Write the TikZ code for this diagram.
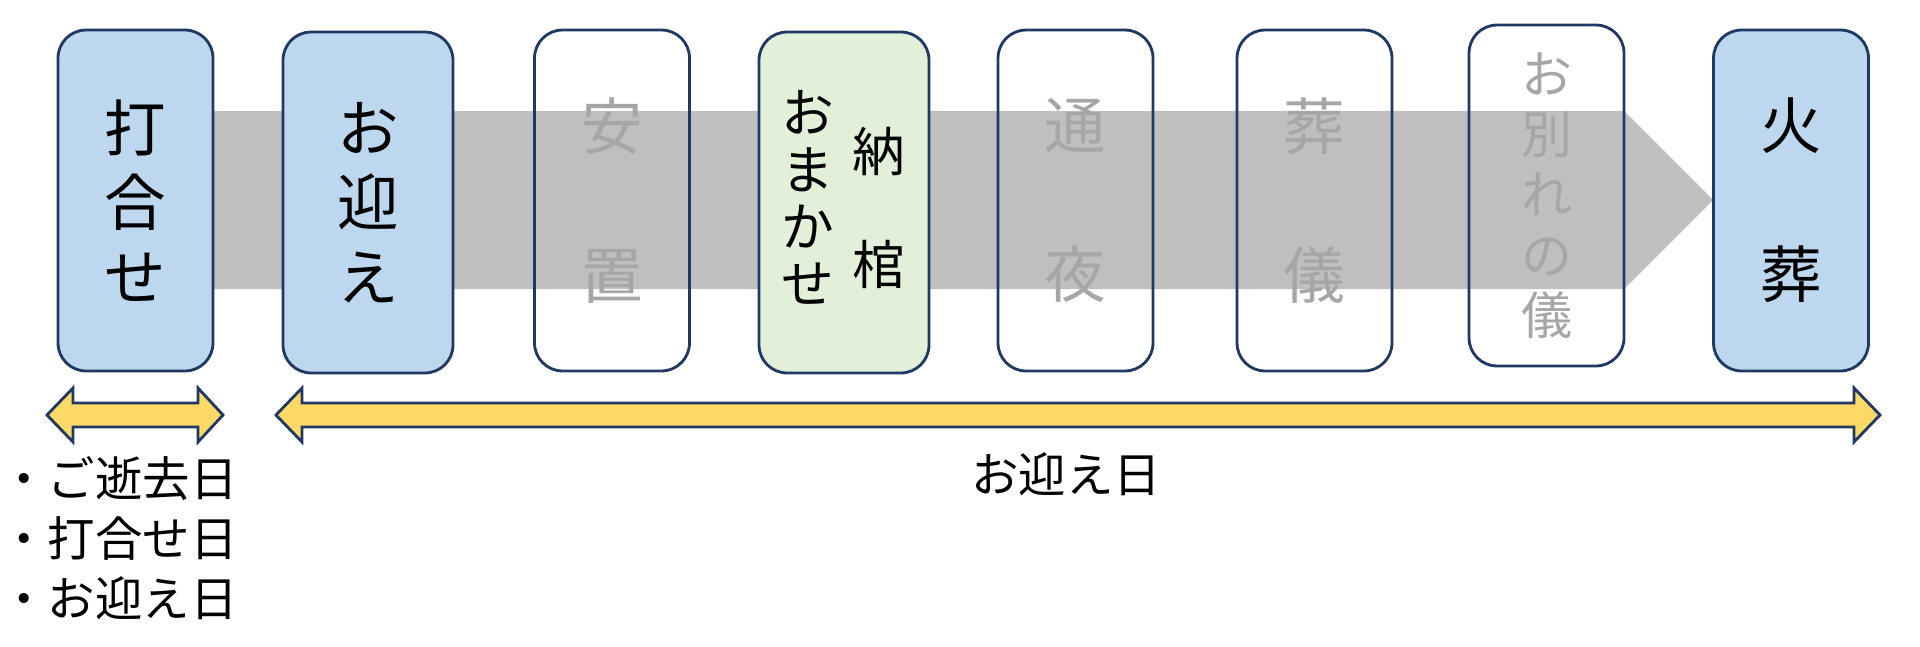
\documentclass[tikz,border=0pt]{standalone}
\usepackage{fontspec}
\setmainfont{Noto Sans CJK JP}
\usepackage{xcolor}
\usepackage{tikz}
\usetikzlibrary{shapes,arrows}

\definecolor{stepblue}{HTML}{BDD7EE}
\definecolor{stepgreen}{HTML}{E2F0D9}
\definecolor{stepline}{HTML}{1F3864}
\definecolor{bandgray}{HTML}{BFBFBF}
\definecolor{textgray}{HTML}{A6A6A6}
\definecolor{dategold}{HTML}{FFD966}

\tikzset{
    stepbox/.style={
        draw=stepline,
        line width=1.6pt,
        rounded corners=0.56cm,
        minimum width=3.1cm,
        minimum height=6.82cm,
        inner sep=0pt,
        align=center,
        font=\fontsize{35}{42.5}\selectfont
    },
    widebox/.style={stepbox, minimum width=3.4cm},
    donebox/.style={fill=stepblue},
    otherbox/.style={text=textgray},
    smalltext/.style={inner sep=0pt, align=center, font=\fontsize{30}{32.3}\selectfont},
    datearrow/.style={
        draw=stepline,
        line width=1.6pt,
        fill=dategold,
        line join=miter
    },
    datetext/.style={inner sep=0pt, align=left, font=\fontsize{27}{34}\selectfont}
}

\begin{document}
\begin{tikzpicture}[x=0.02cm, y=-0.02cm]
                \useasboundingbox (0,0) rectangle (1920,646);

                % grey flow band behind the steps
                \fill[bandgray] (200,111) -- (1624,111) -- (1713,200)
                    -- (1624,289) -- (200,289) -- cycle;

                % steps
                \node[stepbox, donebox] (uchiawase) at (135.5,200.5) {打\\合\\せ};
                \node[widebox, donebox] (omukae) at (368,202.5) {お\\迎\\え};
                \node[stepbox, otherbox] (anchi) at (612,200.5) {安\\[\baselineskip]置};
                \node[widebox, fill=stepgreen] (nokan) at (844,202.5) {};
                \node[smalltext] (nokanL) at (808,197.5) {お\\ま\\か\\せ};
                \node[smalltext] (nokanR) at (878.5,208) {納\\[32.3pt]棺};
                \node[stepbox, otherbox] (tsuya) at (1075.5,200.5) {通\\[\baselineskip]夜};
                \node[stepbox, otherbox] (sogi) at (1314.5,200.5) {葬\\[\baselineskip]儀};
                \node[stepbox, otherbox, font=\fontsize{29}{34.3}\selectfont] (owakare)
                    at (1546.5,195.5) {お\\別\\れ\\の\\儀};
                \node[stepbox, donebox] (kaso) at (1791,200.5) {火\\[\baselineskip]葬};

                % day spans
                \draw[datearrow] (47,415) -- (73,388) -- (73,403) -- (198,403)
                    -- (198,388) -- (223,415) -- (198,442) -- (198,427)
                    -- (73,427) -- (73,442) -- cycle;

                \draw[datearrow] (276,415) -- (302,388) -- (302,403) -- (1854,403)
                    -- (1854,388) -- (1880,415) -- (1854,442) -- (1854,427)
                    -- (302,427) -- (302,442) -- cycle;

                \node[datetext, anchor=west] (firstday) at (0,538)
                    {・ご逝去日\\・打合せ日\\・お迎え日};
                \node[datetext] (secondday) at (1066,474) {お迎え日};

\end{tikzpicture}
\end{document}
